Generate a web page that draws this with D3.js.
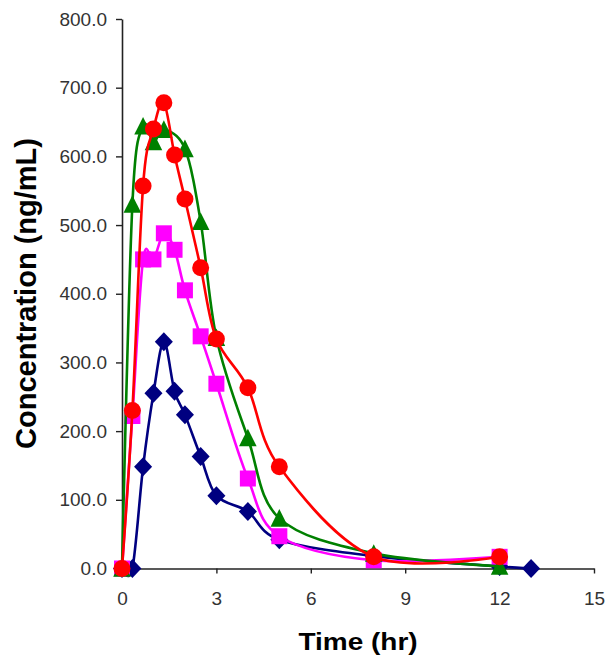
<!DOCTYPE html>
<html>
<head>
<meta charset="utf-8">
<script src="https://cdn.jsdelivr.net/npm/d3@7"></script>
<style>
  body { margin: 0; background: #fff; }
  svg { display: block; }
</style>
</head>
<body>
<div id="root"></div>
<script>
// sampling times (hr)
const times = [0, 0.33, 0.67, 1, 1.33, 1.67, 2, 2.5, 3, 4, 5, 8, 12];
const blueTimes = [0, 0.33, 0.67, 1, 1.33, 1.67, 2, 2.5, 3, 4, 5, 8, 12, 13];
const greenTimes = [0, 0.33, 0.67, 1, 1.33, 2, 2.5, 3, 4, 5, 8, 12];

// concentrations (ng/mL)
const blueConc = [0, 0, 148, 255, 330, 258, 224, 163, 106, 83, 42, 18, 3, 0];
const magentaConc = [0, 222, 450, 450, 488, 464, 405, 338, 269, 131, 47, 12, 17];
const greenConc = [0, 530, 644, 621, 639, 611, 505, 336, 190, 73, 22, 3];
const redConc = [0, 230, 557, 640, 678, 602, 538, 438, 334, 263, 148, 17, 17];

const xTicks = [0, 3, 6, 9, 12, 15];
const yTicks = [0, 100, 200, 300, 400, 500, 600, 700, 800];

const W = 605, H = 663;

const x = d3.scaleLinear().domain([0, 15]).range([122, 594]);
const y = d3.scaleLinear().domain([0, 800]).range([568.5, 19]);

const svg = d3.select("#root").append("svg")
  .attr("width", W)
  .attr("height", H);

const diamond = (s) => {
  const p = d3.path();
  p.moveTo(0, -s); p.lineTo(s * 0.95, 0); p.lineTo(0, s); p.lineTo(-s * 0.95, 0); p.closePath();
  return p.toString();
};
const square = (s) => {
  const p = d3.path();
  p.rect(-s, -s, 2 * s, 2 * s);
  return p.toString();
};
const triangle = (s) => {
  const p = d3.path();
  p.moveTo(0, -s * 1.05); p.lineTo(s, s * 0.95); p.lineTo(-s, s * 0.95); p.closePath();
  return p.toString();
};
const circle = (s) => {
  const p = d3.path();
  p.arc(0, 0, s, 0, 2 * Math.PI);
  return p.toString();
};

const series = [
  { name: "blue", t: blueTimes, v: blueConc, color: "#000080", shape: diamond(9.5) },
  { name: "magenta", t: times, v: magentaConc, color: "#ff00ff", shape: square(8) },
  { name: "green", t: greenTimes, v: greenConc, color: "#008000", shape: triangle(8.8) },
  { name: "red", t: times, v: redConc, color: "#ff0000", shape: circle(8.5) }
];

// axes
const yAxis = svg.append("g")
  .attr("transform", "translate(" + x(0) + ",0)")
  .call(d3.axisLeft(y).tickValues(yTicks).tickFormat(d3.format(".1f")).tickSize(6).tickSizeOuter(0).tickPadding(9));

const xAxis = svg.append("g")
  .attr("transform", "translate(0," + y(0) + ")")
  .call(d3.axisBottom(x).tickValues(xTicks).tickFormat(d3.format("d")).tickSize(5).tickSizeOuter(0).tickPadding(18));

[yAxis, xAxis].forEach((g) => {
  g.select(".domain").attr("stroke", "#222").attr("stroke-width", 1.6);
  g.selectAll(".tick line").attr("stroke", "#222").attr("stroke-width", 1.4);
  g.selectAll(".tick text")
    .attr("fill", "#333")
    .style("font-family", "Arial, 'Liberation Sans', sans-serif")
    .style("font-size", "19px");
});

// lines + markers, drawn series by series like excel
const line = d3.line().curve(d3.curveCatmullRom.alpha(0));

series.forEach((s) => {
  const pts = s.t.map((t, i) => [x(t), y(s.v[i])]);
  const g = svg.append("g").attr("class", "series-" + s.name);
  g.append("path")
    .attr("d", line(pts))
    .attr("fill", "none")
    .attr("stroke", s.color)
    .attr("stroke-width", 2.6)
    .attr("stroke-linejoin", "round");
  g.selectAll("path.mark")
    .data(pts)
    .enter()
    .append("path")
    .attr("class", "mark")
    .attr("d", s.shape)
    .attr("transform", (d) => "translate(" + d[0] + "," + d[1] + ")")
    .attr("fill", s.color);
});

// titles
svg.append("text")
  .attr("transform", "translate(36,293.5) rotate(-90)")
  .attr("text-anchor", "middle")
  .style("font-family", "Arial, 'Liberation Sans', sans-serif")
  .style("font-size", "29px")
  .style("font-weight", "bold")
  .attr("fill", "#000")
  .text("Concentration (ng/mL)");

svg.append("text")
  .attr("transform", "translate(358,650) scale(1,0.85)")
  .attr("text-anchor", "middle")
  .style("font-family", "Arial, 'Liberation Sans', sans-serif")
  .style("font-size", "28px")
  .style("font-weight", "bold")
  .attr("fill", "#000")
  .text("Time (hr)");
</script>
</body>
</html>
